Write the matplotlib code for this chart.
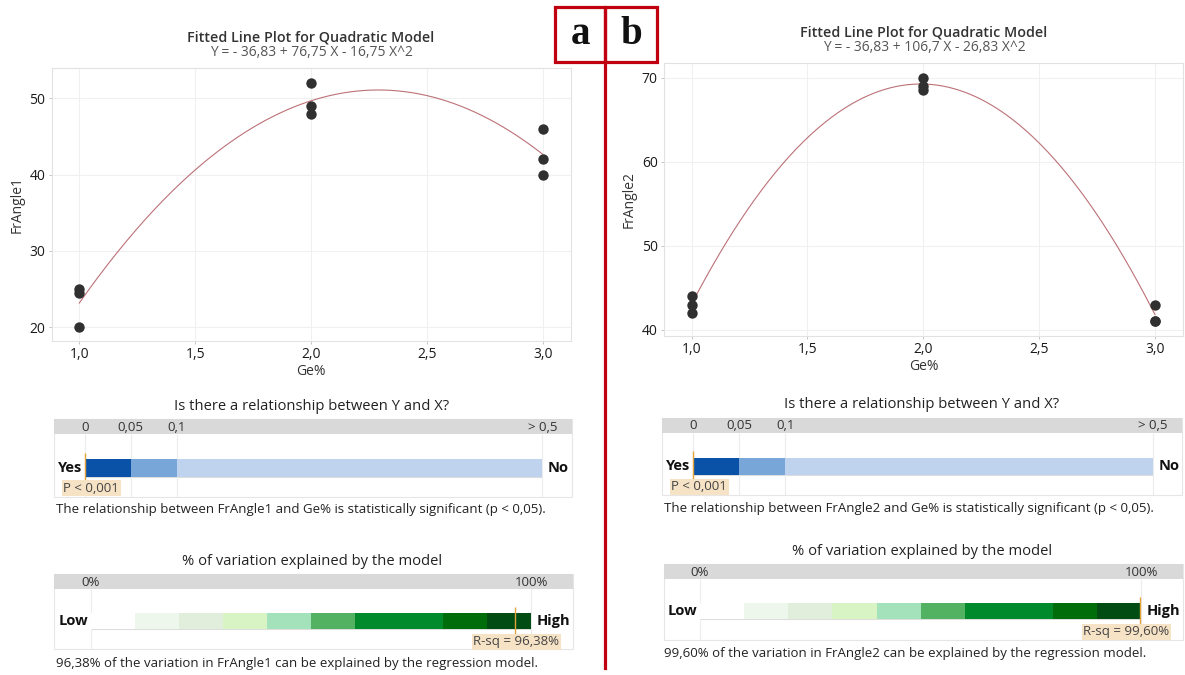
import matplotlib
matplotlib.use("Agg")  # headless
import matplotlib.pyplot as plt
from matplotlib.patches import Rectangle
import numpy as np

W, H = 1185, 675
FONT = ["Open Sans", "DejaVu Sans"]
plt.rcParams["font.family"] = FONT

# ---- data -------------------------------------------------------------
GE = [1.0, 1.0, 1.0, 2.0, 2.0, 2.0, 3.0, 3.0, 3.0]
FR1 = [25.0, 24.5, 20.0, 52.0, 49.0, 48.0, 46.0, 42.0, 40.0]
FR2 = [44.0, 43.0, 42.0, 70.0, 69.0, 68.5, 43.0, 41.0, 41.0]
COEF1 = [-36.83, 76.75, -16.75]
COEF2 = [-36.83, 106.7, -26.83]
EQ1 = "Y = - 36,83 + 76,75 X - 16,75 X^2"
EQ2 = "Y = - 36,83 + 106,7 X - 26,83 X^2"
XTICKS = [1.0, 1.5, 2.0, 2.5, 3.0]
YTICKS1 = [20, 30, 40, 50]
YTICKS2 = [40, 50, 60, 70]

P_BREAKS = [0, 0.05, 0.1, 0.5]
P_LABELS = ["0", "0,05", "0,1", "> 0,5"]
P_COLORS = ["#0a52a8", "#78a6d9", "#bfd3ee"]
P_VALUE = 0.0
RSQ_BREAKS = [0, 10, 20, 30, 40, 50, 60, 70, 80, 90, 100]
RSQ_COLORS = ["#ffffff", "#eef7ec", "#e1eedb", "#d9f4c4", "#a3e2bb",
              "#53b262", "#008a2b", "#008a2b", "#006d0b", "#004c12"]
RSQ_LABELS = ["0%", "100%"]
RSQ = [96.38, 99.60]
RSQ_TXT = ["96,38%", "99,60%"]

FIT = "#bc7177"
DOT = "#303030"
GRID = "#f0f0f0"
FRAME = "#e2e2e2"
TXT = "#333333"
RED = "#c00010"
ORANGE = "#e3a23a"
TAN = "#f6e3c6"


def rect(l, t, r, b):
    return [l / W, 1 - b / H, (r - l) / W, (b - t) / H]


def ftext(x, y, s, **kw):
    fig.text(x / W, 1 - y / H, s, **kw)


fig = plt.figure(figsize=(W / 100, H / 100), dpi=100, facecolor="white")


def fitted_panel(box, y, coef, ylabel, ylim, yticks):
    ax = fig.add_axes(rect(*box))
    xs = np.linspace(1, 3, 200)
    ax.plot(xs, coef[0] + coef[1] * xs + coef[2] * xs ** 2, color=FIT, lw=0.8, zorder=2)
    ax.scatter(GE, y, s=56, color=DOT, zorder=3, linewidths=0)
    ax.set_xlim(0.881, 3.121)
    ax.set_ylim(*ylim)
    ax.set_xticks(XTICKS)
    ax.set_xticklabels([f"{v:.1f}".replace(".", ",") for v in XTICKS])
    ax.set_yticks(yticks)
    ax.grid(color=GRID, lw=0.8)
    ax.set_axisbelow(True)
    for s in ax.spines.values():
        s.set_color(FRAME)
        s.set_linewidth(0.8)
    ax.tick_params(length=2.5, width=0.6, color="#bbbbbb", labelsize=10,
                   labelcolor="#1a1a1a", pad=2)
    ax.set_xlabel("Ge%", fontsize=10, color=TXT, labelpad=1.5)
    ax.set_ylabel(ylabel, fontsize=10, color=TXT, labelpad=3.5)
    return ax


def gauge(box, hdr, bar, xlim, breaks, colors, ticks, labels, side, value,
          marker, note, note_box):
    l, t, r, b = box
    ax = fig.add_axes(rect(l, t, r, b))
    ax.set_xlim(*xlim)
    ax.set_ylim(b - t, 0)
    ax.axis("off")
    ax.add_patch(Rectangle((0, 0), 1, 1, transform=ax.transAxes, fill=False,
                           ec="#e6e6e6", lw=0.8, clip_on=False))
    ax.axhspan(0, hdr, color="#d9d9d9", lw=0)
    for x in ticks:
        ax.vlines(x, hdr, b - t, color="#ececec", lw=0.8)
    ax.barh((bar[0] + bar[1]) / 2, np.diff(breaks), left=breaks[:-1],
            height=bar[1] - bar[0], color=colors, lw=0, zorder=2)
    ax.hlines(bar[1], breaks[0], breaks[-1], color="#dddddd", lw=0.8, zorder=1)
    for x, s in zip(ticks, labels):
        ax.text(x, hdr / 2 + 0.5, s, ha="center", va="center", fontsize=9.5, color=TXT)
    ym = (bar[0] + bar[1]) / 2
    ax.annotate(side[0], (breaks[0], ym), xytext=(-2, 0), textcoords="offset points",
                ha="right", va="center", fontsize=10.5, weight="bold", color="#111111")
    ax.annotate(side[1], (breaks[-1], ym), xytext=(4, 0), textcoords="offset points",
                ha="left", va="center", fontsize=10.5, weight="bold", color="#111111")
    ax.vlines(value, marker[0], marker[1], color=ORANGE, lw=1, zorder=3)
    ax.text(note_box[0], note_box[1], note, ha=note_box[2], va="center", fontsize=9.5,
            color="#444444", bbox=dict(boxstyle="square,pad=0.12", fc=TAN, ec="none"))
    return ax


# ---- fitted line plots ------------------------------------------------
fitted_panel((51.7, 68.3, 570.7, 341), FR1, COEF1, "FrAngle1", (18.2, 53.93), YTICKS1)
fitted_panel((664, 62.7, 1183, 336), FR2, COEF2, "FrAngle2", (39.25, 71.79), YTICKS2)

for cx, ty, eq in [(311, 37.3, EQ1), (924, 32.3, EQ2)]:
    ftext(cx, ty, "Fitted Line Plot for Quadratic Model", ha="center", va="center",
          fontsize=10.3, weight="semibold", color=TXT)
    ftext(cx, ty + 15, eq, ha="center", va="center", fontsize=10, color="#555555")

# ---- p-value and R-sq gauges ------------------------------------------
P_XLIM = (-0.0345, 0.532)
R_XLIM = (-8.2, 109.4)
for box in [(53.6, 419.3, 571.6, 497), (661.8, 417.7, 1182, 495)]:
    gauge(box, 15, (40, 57.4), P_XLIM, P_BREAKS, P_COLORS, P_BREAKS, P_LABELS,
          ("Yes", "No"), P_VALUE, (33.4, 62.4), "P < 0,001", (-0.024, 69, "left"))

for i, box in enumerate([(54.4, 574.3, 572.8, 649.3), (663.7, 564.3, 1183, 640)]):
    gauge(box, 14.7, (39, 55), R_XLIM, RSQ_BREAKS, RSQ_COLORS, [0, 100], RSQ_LABELS,
          ("Low", "High"), RSQ[i], (32.4, 60.7), f"R-sq = {RSQ_TXT[i]}",
          (106.3, 67.4, "right"))

for cx, y1, y2 in [(312, 406.7, 561.7), (922, 405, 551.7)]:
    ftext(cx, y1, "Is there a relationship between Y and X?", ha="center", va="center",
          fontsize=10.6, color="#222222")
    ftext(cx, y2, "% of variation explained by the model", ha="center", va="center",
          fontsize=10.6, color="#222222")

for lx, y1, y2, name, r in [(55.6, 510, 663.3, "FrAngle1", RSQ_TXT[0]),
                            (664.4, 508.3, 653.3, "FrAngle2", RSQ_TXT[1])]:
    ftext(lx, y1, f"The relationship between {name} and Ge% is statistically significant (p < 0,05).",
          ha="left", va="center", fontsize=9.5, color="#222222")
    ftext(lx, y2, f"{r} of the variation in {name} can be explained by the regression model.",
          ha="left", va="center", fontsize=9.5, color="#222222")

# ---- panel letters ----------------------------------------------------
for l, r, s in [(555, 605, "a"), (605, 656.7, "b")]:
    fig.patches.append(Rectangle((l / W, 1 - 61.7 / H), (r - l) / W, (61.7 - 7.3) / H,
                                 transform=fig.transFigure, fill=False, ec=RED, lw=2.3))
    ftext((l + r) / 2, 35, s, ha="center", va="center", fontsize=28, weight="bold",
          family="Liberation Serif", color="#111111")
fig.add_artist(plt.Line2D([605 / W, 605 / W], [1 - 61.7 / H, 1 - 668 / H],
                          transform=fig.transFigure, color=RED, lw=2.3))

fig.savefig("out.png", dpi=100, facecolor="white")
